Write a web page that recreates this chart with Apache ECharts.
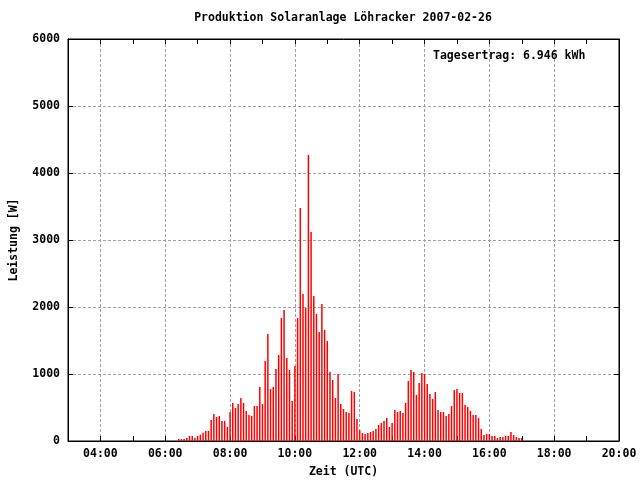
<!DOCTYPE html>
<html>
<head>
<meta charset="utf-8">
<script src="https://cdn.jsdelivr.net/npm/echarts@6/dist/echarts.min.js"></script>
<style>
  html, body { margin: 0; padding: 0; background: #ffffff; }
  #chart { width: 640px; height: 480px; }
</style>
</head>
<body>
<div id="chart"></div>
<script>
const chartTitle = 'Produktion Solaranlage Löhracker 2007-02-26';
const yieldText = 'Tagesertrag: 6.946 kWh';
const xName = 'Zeit (UTC)';
const yName = 'Leistung [W]';

const times = [
  '06:25','06:30','06:35','06:40','06:45','06:50','06:55',
  '07:00','07:05','07:10','07:15','07:20','07:25','07:30','07:35','07:40','07:45','07:50','07:55',
  '08:00','08:05','08:10','08:15','08:20','08:25','08:30','08:35','08:40','08:45','08:50','08:55',
  '09:00','09:05','09:10','09:15','09:20','09:25','09:30','09:35','09:40','09:45','09:50','09:55',
  '10:00','10:05','10:10','10:15','10:20','10:25','10:30','10:35','10:40','10:45','10:50','10:55',
  '11:00','11:05','11:10','11:15','11:20','11:25','11:30','11:35','11:40','11:45','11:50','11:55',
  '12:00','12:05','12:10','12:15','12:20','12:25','12:30','12:35','12:40','12:45','12:50','12:55',
  '13:00','13:05','13:10','13:15','13:20','13:25','13:30','13:35','13:40','13:45','13:50','13:55',
  '14:00','14:05','14:10','14:15','14:20','14:25','14:30','14:35','14:40','14:45','14:50','14:55',
  '15:00','15:05','15:10','15:15','15:20','15:25','15:30','15:35','15:40','15:45','15:50','15:55',
  '16:00','16:05','16:10','16:15','16:20','16:25','16:30','16:35','16:40','16:45','16:50','16:55',
  '17:00'
];

const power = [
  30, 30, 30, 45, 75, 75, 45,
  75, 95, 125, 150, 150, 313, 403, 358, 373, 298, 298, 209,
  433, 567, 492, 552, 642, 567, 448, 388, 373, 522, 522, 806,
  552, 1194, 1597, 776, 806, 1075, 1284, 1836, 1955, 1239, 1060, 597,
  1119, 1836, 3478, 2194, 1985, 4269, 3119, 2164, 1896, 1627, 2045, 1657,
  1493, 1030, 910, 642, 1000, 552, 478, 433, 418, 746, 731, 328,
  164, 119, 104, 119, 134, 149, 179, 239, 269, 299, 343, 209,
  269, 463, 433, 448, 418, 567, 895, 1060, 1030, 687, 865, 1015,
  1000, 851, 701, 627, 731, 463, 433, 433, 373, 403, 522, 761,
  776, 716, 716, 537, 507, 448, 388, 388, 343, 179, 90, 104,
  104, 75, 75, 45, 60, 60, 75, 75, 134, 90, 60, 45,
  45
];

const xMin = 3, xMax = 20;       // hours
const yMin = 0, yMax = 6000;     // W

function toHours(t) {
  const p = t.split(':');
  return Number(p[0]) + Number(p[1]) / 60;
}
function hourLabel(v) {
  if (v % 2 !== 0 || v === xMin) return '';
  return (v < 10 ? '0' : '') + v + ':00';
}

const FONT = '"DejaVu Sans Mono", "Liberation Mono", monospace';
const textStyle = { fontFamily: FONT, fontWeight: 'bold', fontSize: 11.5, color: '#000' };
const gridLine = { show: true, lineStyle: { color: '#a0a0a0', width: 1, type: [3, 2] } };

const chart = echarts.init(document.getElementById('chart'), null, { renderer: 'canvas' });
chart.setOption({
  backgroundColor: '#ffffff',
  animation: false,
  grid: { left: 68, right: 21, top: 39, bottom: 39, containLabel: false, outerBoundsMode: 'none', show: true, borderColor: '#000', borderWidth: 1, backgroundColor: 'transparent' },
  graphic: [
    { type: 'text', z: 100, style: { text: chartTitle, x: 343, y: 18, align: 'center', verticalAlign: 'middle', font: 'bold 11.5px ' + FONT, fill: '#000' } },
    { type: 'text', z: 100, style: { text: yieldText, x: 433, y: 56, align: 'left', verticalAlign: 'middle', font: 'bold 11.5px ' + FONT, fill: '#000' } }
  ],
  xAxis: [
    {
      type: 'value', min: xMin, max: xMax, interval: 1, position: 'bottom',
      name: xName, nameLocation: 'middle', nameGap: 25, nameTextStyle: textStyle,
      axisLine: { show: true, onZero: false, lineStyle: { color: '#000', width: 1 } },
      axisTick: { show: true, inside: true, length: 5, lineStyle: { color: '#000' } },
      axisLabel: Object.assign({ margin: 7, formatter: hourLabel, showMinLabel: true, showMaxLabel: true }, textStyle),
      splitLine: { show: true, lineStyle: { color: ['rgba(0,0,0,0)', '#a0a0a0'], width: 1, type: [3, 2] } }
    },
    {
      type: 'value', min: xMin, max: xMax, interval: 1, position: 'top',
      axisLine: { show: true, onZero: false, lineStyle: { color: '#000', width: 1 } },
      axisTick: { show: true, inside: true, length: 5, lineStyle: { color: '#000' } },
      axisLabel: { show: false },
      splitLine: { show: false }
    }
  ],
  yAxis: [
    {
      type: 'value', min: yMin, max: yMax, interval: 1000, position: 'left',
      name: yName, nameLocation: 'middle', nameGap: 48, nameRotate: 90, nameTextStyle: textStyle,
      axisLine: { show: true, onZero: false, lineStyle: { color: '#000', width: 1 } },
      axisTick: { show: true, inside: true, length: 5, lineStyle: { color: '#000' } },
      axisLabel: Object.assign({ margin: 8, formatter: v => String(v) }, textStyle),
      splitLine: gridLine
    },
    {
      type: 'value', min: yMin, max: yMax, interval: 1000, position: 'right',
      axisLine: { show: true, onZero: false, lineStyle: { color: '#000', width: 1 } },
      axisTick: { show: true, inside: true, length: 5, lineStyle: { color: '#000' } },
      axisLabel: { show: false },
      splitLine: { show: false }
    }
  ],
  series: [{
    type: 'bar',
    xAxisIndex: 0, yAxisIndex: 0,
    barWidth: 1.5,
    itemStyle: { color: '#ff0000' },
    data: times.map((t, i) => [toHours(t), power[i]])
  }]
});
</script>
</body>
</html>
